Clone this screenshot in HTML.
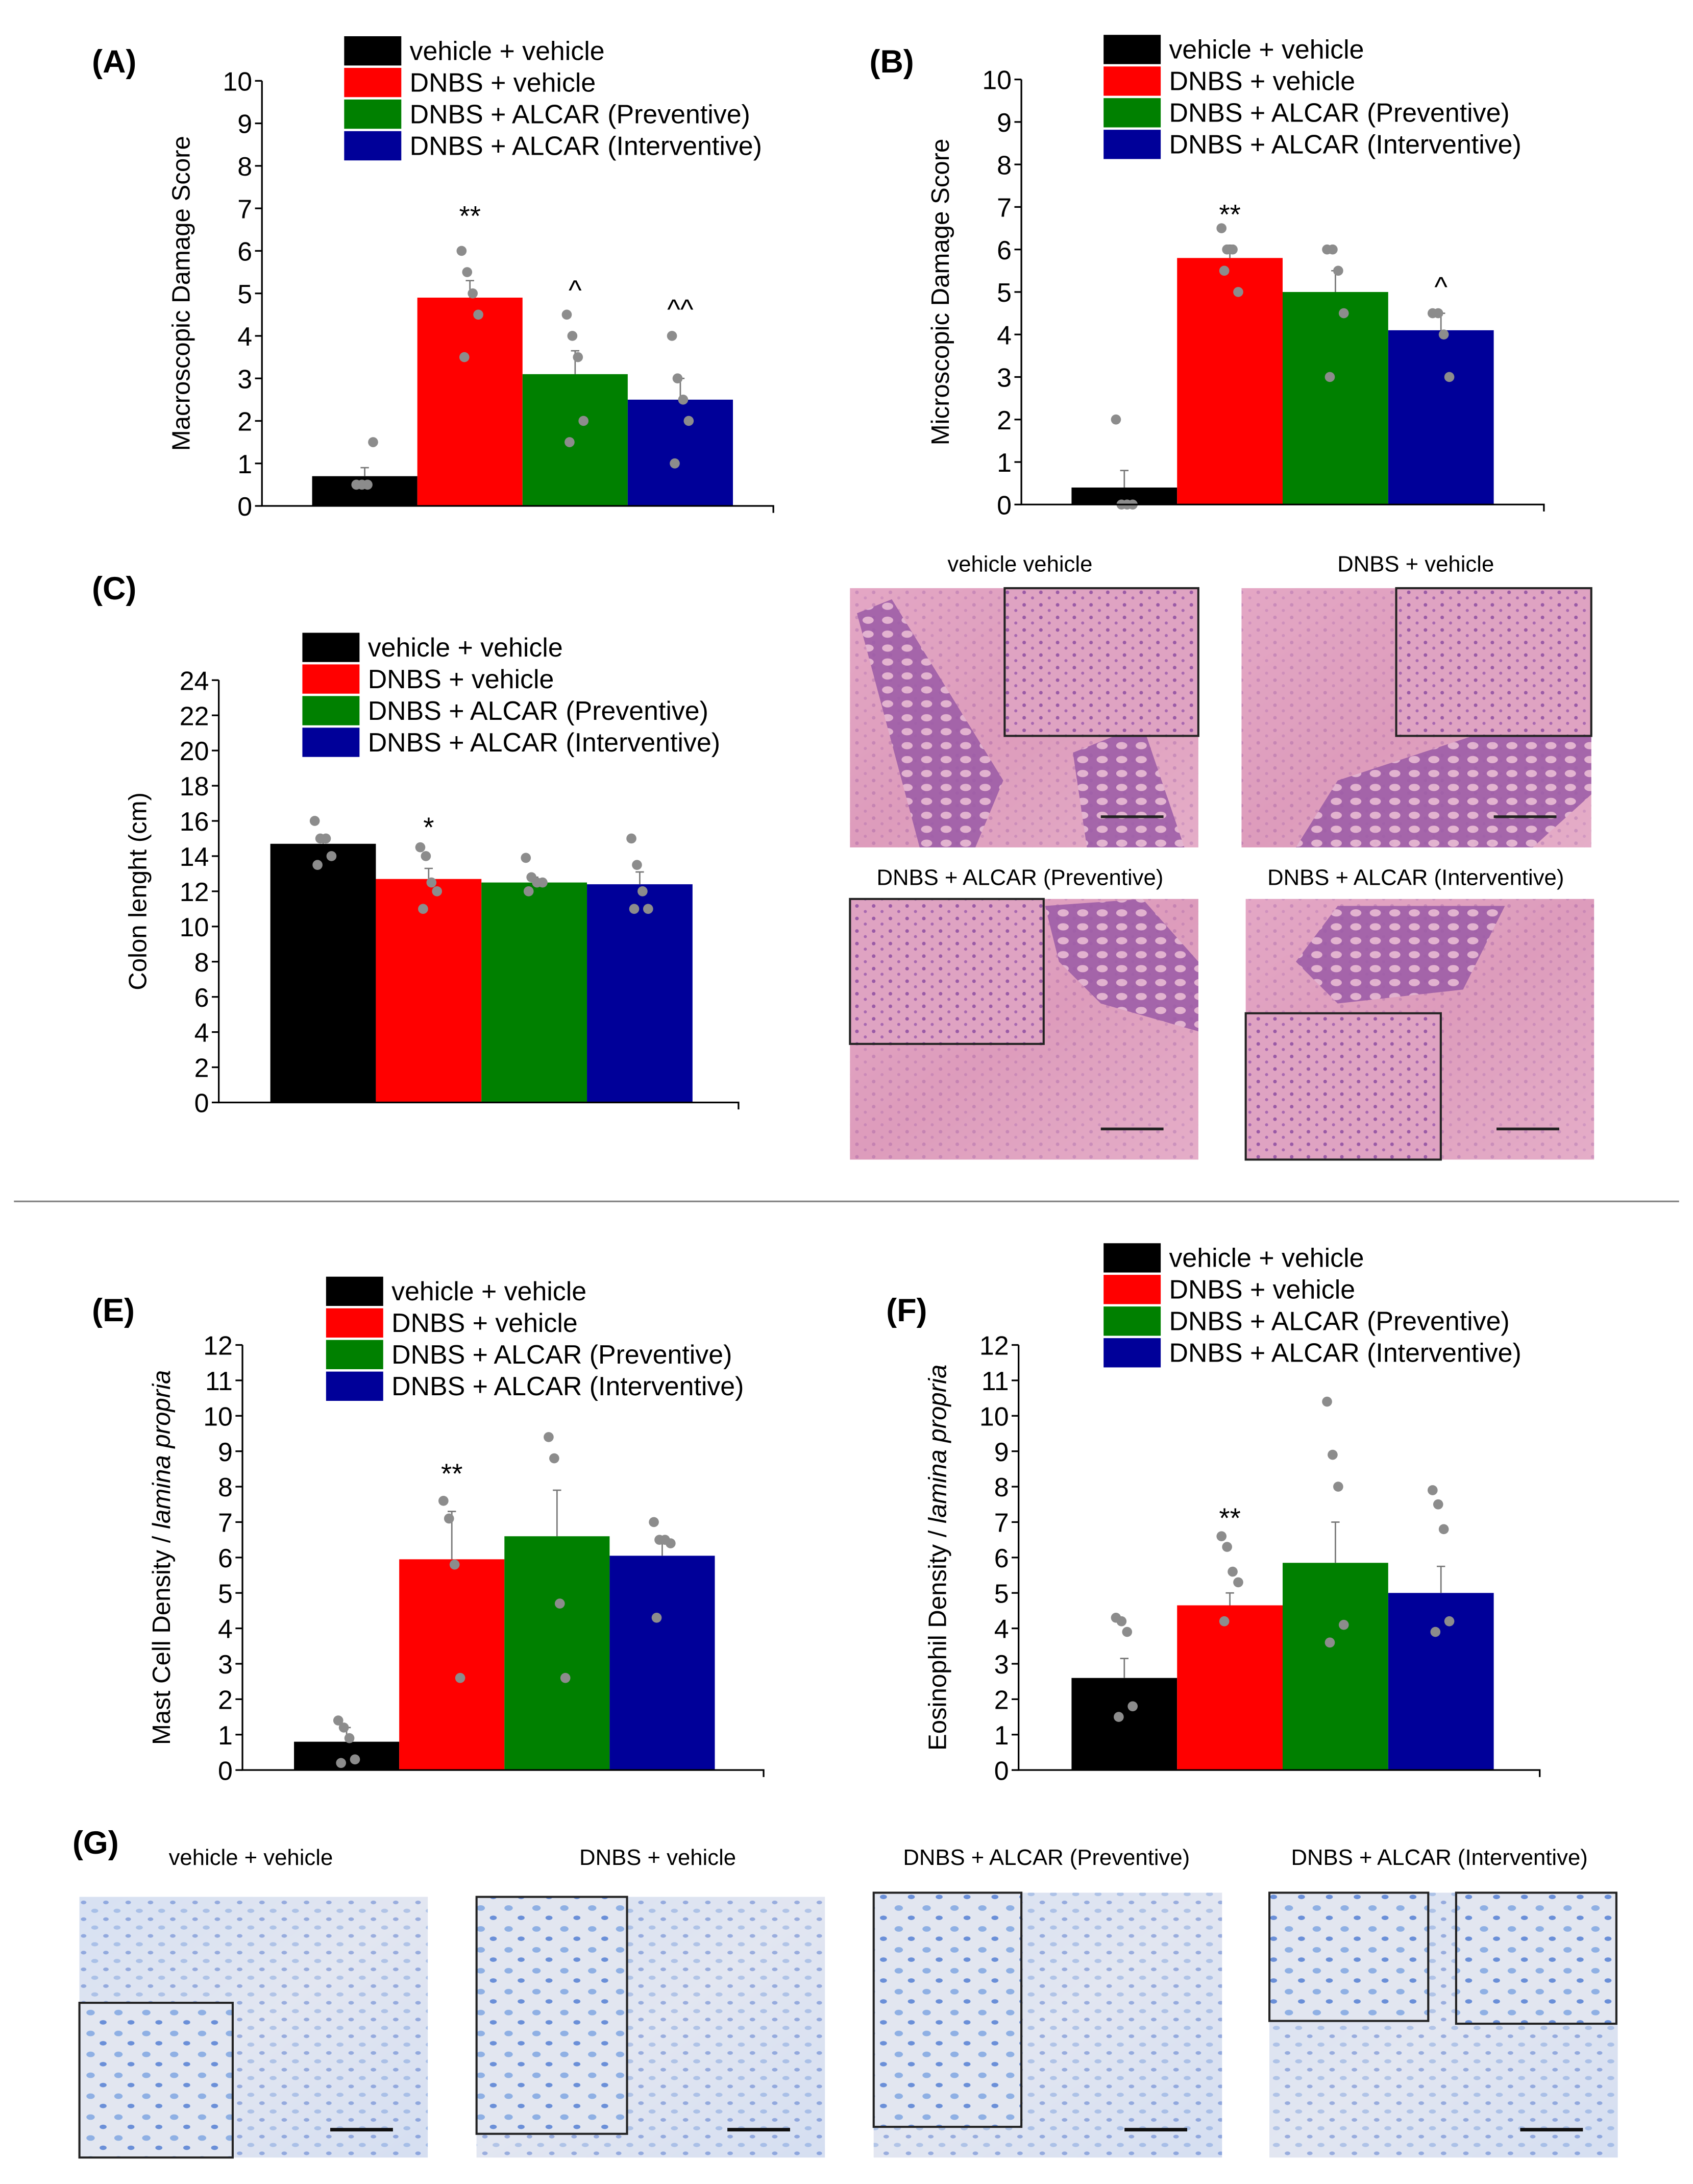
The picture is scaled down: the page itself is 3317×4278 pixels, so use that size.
<!DOCTYPE html>
<html><head><meta charset="utf-8"><style>
html,body{margin:0;padding:0;background:#fff;}
svg{display:block;}
text{font-family:"Liberation Sans Narrow","Liberation Sans",Arial,sans-serif;}
.pl{font-family:"Liberation Sans","DejaVu Sans",sans-serif;font-weight:bold;font-size:23px;}
.tt{font-family:"Liberation Sans","DejaVu Sans",sans-serif;font-size:16px;}
</style></head><body>
<svg id="fig" width="3317" height="4278" viewBox="0 0 1215 1567" preserveAspectRatio="none" xmlns="http://www.w3.org/2000/svg">
<defs>
<linearGradient id="he" x1="0" y1="0" x2="1" y2="1"><stop offset="0" stop-color="#e6a9c6"/><stop offset="0.5" stop-color="#dc98b8"/><stop offset="1" stop-color="#e8b3cb"/></linearGradient>
<linearGradient id="tb" x1="0" y1="0" x2="1" y2="1"><stop offset="0" stop-color="#cfdcf1"/><stop offset="0.5" stop-color="#e4e6ef"/><stop offset="1" stop-color="#cad7ef"/></linearGradient>
<pattern id="crypt" width="14" height="10" patternUnits="userSpaceOnUse"><rect width="14" height="10" fill="#9a5aa6"/><ellipse cx="7" cy="5" rx="4" ry="2.6" fill="#e3b6d2"/></pattern>
<pattern id="cells" width="16" height="12" patternUnits="userSpaceOnUse"><rect width="16" height="12" fill="#dfe5f2"/><ellipse cx="4" cy="3" rx="2.5" ry="1.5" fill="#7fa2de"/><ellipse cx="12" cy="9" rx="2" ry="1.3" fill="#4f74cc"/></pattern>
<pattern id="cells2" width="20" height="15" patternUnits="userSpaceOnUse"><rect width="20" height="15" fill="#e2e6f0"/><ellipse cx="5" cy="4" rx="3" ry="2" fill="#8fb0e4"/><ellipse cx="14" cy="11" rx="2.5" ry="1.6" fill="#6a8fd8"/></pattern>
<pattern id="hecells" width="12" height="9" patternUnits="userSpaceOnUse"><rect width="12" height="9" fill="#dfa3c2"/><circle cx="3" cy="2" r="1.3" fill="#9a5aa6"/><circle cx="9" cy="6" r="1.1" fill="#a868b0"/></pattern>
</defs>
<g id="charts"></g>
<g id="histo"></g>
<line x1="10" y1="862" x2="1205" y2="862" stroke="#888" stroke-width="1.2"/>
</svg>
<script>
// ---- data ----
const groups = ["vehicle + vehicle","DNBS + vehicle","DNBS + ALCAR (Preventive)","DNBS + ALCAR (Interventive)"];
const colors = ["#000000","#ff0000","#008000","#000099"];

const aMeans = [0.7, 4.9, 3.1, 2.5];
const aErr = [0.9, 5.3, 3.65, 3.0];
const aDots = [[0.5,0.5,0.5,1.5],[6,5.5,5,4.5,3.5],[4.5,4,3.5,2,1.5],[4,3,2.5,2,1]];
const aSig = ["**","^","^^"];
const aSigVal = [6.6,4.85,4.4];
const aTicks = [0,1,2,3,4,5,6,7,8,9,10];

const bMeans = [0.4, 5.8, 5.0, 4.1];
const bErr = [0.8, 6.1, 5.5, 4.5];
const bDots = [[2,0,0,0],[6.5,6,6,5,5.5],[6,6,5.5,4.5,3],[4.5,4.5,4,3]];
const bSig = ["**","^"];
const bSigVal = [6.6,4.9];
const bTicks = [0,1,2,3,4,5,6,7,8,9,10];

const cMeans = [14.7, 12.7, 12.5, 12.4];
const cErr = [14.9, 13.3, 12.8, 13.1];
const cDots = [[16,15,15,14,13.5],[14.5,14,12.5,12,11],[13.9,12.8,12.5,12.5,12],[15,13.5,12,11,11]];
const cSig = ["*"];
const cSigVal = [15.1];
const cTicks = [0,2,4,6,8,10,12,14,16,18,20,22,24];

const eMeans = [0.8, 5.95, 6.6, 6.05];
const eErr = [1.2, 7.3, 7.9, 6.4];
const eDots = [[1.4,1.2,0.9,0.3,0.2],[7.6,7.1,5.8,2.6],[9.4,8.8,4.7,2.6],[7.0,6.5,6.5,6.4,4.3]];
const eSig = ["**"];
const eSigVal = [8.1];
const eTicks = [0,1,2,3,4,5,6,7,8,9,10,11,12];

const fMeans = [2.6, 4.65, 5.85, 5.0];
const fErr = [3.15, 5.0, 7.0, 5.75];
const fDots = [[4.3,4.2,3.9,1.8,1.5],[6.6,6.3,5.6,5.3,4.2],[10.4,8.9,8.0,4.1,3.6],[7.9,7.5,6.8,4.2,3.9]];
const fSig = ["**"];
const fSigVal = [6.85];
const fTicks = [0,1,2,3,4,5,6,7,8,9,10,11,12];

const NS="http://www.w3.org/2000/svg";
function mk(tag,attrs,parent,txt){const e=document.createElementNS(NS,tag);for(const k in attrs)e.setAttribute(k,attrs[k]);if(txt!==undefined)e.textContent=txt;parent.appendChild(e);return e;}
const jit=[-6,-2,2,6,-4,4];

function chart(id,letter,letterPos,ax,means,err,dots,sig,sigVal,ticks,ylabel,legPos){
  const g=mk('g',{},document.getElementById('charts'));
  
  
  const lab=mk('text',{x:letterPos[0],y:letterPos[1],class:'pl'},g,letter);
  
  
  const yMax=ticks[ticks.length-1];
  const Y=v=>ax.y0-(v/yMax)*(ax.y0-ax.yTop);
  const bw=(ax.barEnd-ax.barStart)/means.length;
  const X=i=>ax.barStart+i*bw;
  means.forEach((m,i)=>{
    const r=mk('rect',{x:X(i),y:Y(m),width:bw,height:ax.y0-Y(m),fill:colors[i]},g);
    
    
    const cx=X(i)+bw/2;
    const el=mk('path',{d:`M${cx},${Y(m)}V${Y(err[i])}M${cx-3},${Y(err[i])}H${cx+3}`,stroke:'#777','stroke-width':1,fill:'none'},g);
    
    
    dots[i].forEach((d,j)=>{
      const c=mk('circle',{cx:cx+jit[j%6],cy:Y(d),r:3.6,fill:'#8c8c8c'},g);
      
      
    });
  });
  sig.forEach((s,k)=>{
    const idx=(id==='b'&&k===1)?3:(k+1);
    const t=mk('text',{x:X(idx)+bw/2,y:Y(sigVal[k]),'text-anchor':'middle','font-size':20},g,s);
    
    
  });
  const axl=mk('path',{d:`M${ax.x},${ax.yTop}V${ax.y0}H${ax.xEnd}V${ax.y0+5}`,stroke:'#000','stroke-width':1.2,fill:'none'},g);
  
  
  ticks.forEach(t=>{
    mk('line',{x1:ax.x-5,x2:ax.x,y1:Y(t),y2:Y(t),stroke:'#000','stroke-width':1.2},g);
    const tl=mk('text',{x:ax.x-7,y:Y(t)+7,'text-anchor':'end','font-size':19},g,t);
    
    
  });
  const cy=(ax.yTop+ax.y0)/2;
  const yl=mk('text',{x:ax.labelX,y:cy,'text-anchor':'middle','font-size':18,transform:`rotate(-90 ${ax.labelX} ${cy})`},g);
  
  
  ylabel.forEach(p=>{mk('tspan',p[1]?{'font-style':'italic'}:{},yl,p[0]);});
  groups.forEach((gname,i)=>{
    const y=legPos[1]+i*22.7;
    const sw=mk('rect',{x:legPos[0],y:y,width:41,height:21,fill:colors[i]},g);
    
    
    const lt=mk('text',{x:legPos[0]+47,y:y+17,'font-size':19},g,gname);
    
    
  });
}
chart('a','(A)',[66,52],{x:188,yTop:58,y0:363,xEnd:555,barStart:224,barEnd:526,labelX:136},aMeans,aErr,aDots,aSig,aSigVal,aTicks,[["Macroscopic Damage Score"]],[247,26]);
chart('b','(B)',[624,52],{x:733,yTop:57,y0:362,xEnd:1108,barStart:769,barEnd:1072,labelX:681},bMeans,bErr,bDots,bSig,bSigVal,bTicks,[["Microscopic Damage Score"]],[792,25]);
chart('c','(C)',[66,430],{x:157,yTop:488,y0:791,xEnd:530,barStart:194,barEnd:497,labelX:105},cMeans,cErr,cDots,cSig,cSigVal,cTicks,[["Colon lenght (cm)"]],[217,454]);
chart('e','(E)',[66,948],{x:174,yTop:965,y0:1270,xEnd:548,barStart:211,barEnd:513,labelX:122},eMeans,eErr,eDots,eSig,eSigVal,eTicks,[["Mast Cell Density / "],["lamina propria",1]],[234,916]);
chart('f','(F)',[636,948],{x:731,yTop:965,y0:1270,xEnd:1105,barStart:769,barEnd:1072,labelX:679},fMeans,fErr,fDots,fSig,fSigVal,fTicks,[["Eosinophil Density / "],["lamina propria",1]],[792,892]);

// ---- histology images ----
const H=document.getElementById('histo');
function title(x,y,t){const e=mk('text',{x:x,y:y,'text-anchor':'middle',class:'tt'},H,t);}
function heImg(name,x,y,w,h,inset,band){
  const g=mk('g',{},H);
  
  
  mk('rect',{x:x,y:y,width:w,height:h,fill:'url(#he)'},g);
  mk('rect',{x:x,y:y,width:w,height:h,fill:'url(#hecells)',opacity:0.35},g);
  mk('path',{d:band,fill:'url(#crypt)',opacity:0.85},g);
  mk('rect',{x:inset[0],y:inset[1],width:inset[2],height:inset[3],fill:'url(#hecells)',stroke:'#222','stroke-width':1.5},g);
  mk('line',{x1:x+w-70,x2:x+w-25,y1:y+h-22,y2:y+h-22,stroke:'#222','stroke-width':2},g);
}
title(732,410,'vehicle vehicle');title(1016,410,'DNBS + vehicle');
title(732,635,'DNBS + ALCAR (Preventive)');title(1016,635,'DNBS + ALCAR (Interventive)');
heImg('he-image-vehicle',610,422,250,186,[721,422,139,106],'M615,440 L640,430 L720,560 L700,608 L660,608 Z M770,540 L820,520 L850,608 L780,608 Z');
heImg('he-image-dnbs',891,422,251,186,[1002,422,140,106],'M930,608 L960,560 L1142,500 L1142,570 L1100,608 Z');
heImg('he-image-preventive',610,645,250,187,[610,645,139,104],'M750,650 L820,645 L860,690 L860,740 L790,720 L760,690 Z');
heImg('he-image-interventive',894,645,250,187,[894,727,140,105],'M930,690 L960,650 L1080,650 L1050,710 L960,720 Z');

function tbImg(name,x,y,w,h,insets){
  const g=mk('g',{},H);
  
  
  mk('rect',{x:x,y:y,width:w,height:h,fill:'url(#tb)'},g);
  mk('rect',{x:x,y:y,width:w,height:h,fill:'url(#cells)',opacity:0.5},g);
  insets.forEach(r=>mk('rect',{x:r[0],y:r[1],width:r[2],height:r[3],fill:'url(#cells2)',stroke:'#222','stroke-width':1.5},g));
  mk('line',{x1:x+w-70,x2:x+w-25,y1:y+h-20,y2:y+h-20,stroke:'#111','stroke-width':2.5},g);
}
const gl=mk('text',{x:52,y:1330,class:'pl'},H,'(G)');


title(180,1338,'vehicle + vehicle');title(472,1338,'DNBS + vehicle');
title(751,1338,'DNBS + ALCAR (Preventive)');title(1033,1338,'DNBS + ALCAR (Interventive)');
tbImg('tb-image-vehicle',57,1361,250,187,[[57,1437,110,111]]);
tbImg('tb-image-dnbs',342,1361,250,187,[[342,1361,108,170]]);
tbImg('tb-image-preventive',627,1358,250,190,[[627,1358,106,168]]);
tbImg('tb-image-interventive',911,1358,250,190,[[911,1358,114,92],[1045,1358,115,94]]);
</script>
</body></html>
